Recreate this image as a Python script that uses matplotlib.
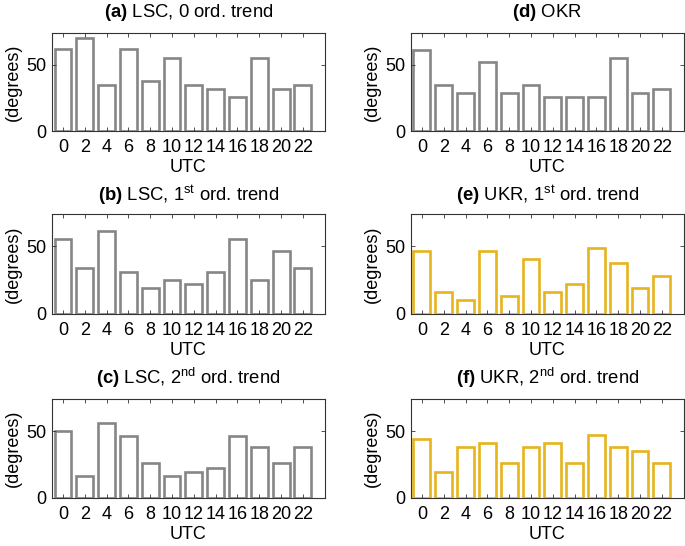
import matplotlib; matplotlib.use('Agg')
import matplotlib.pyplot as plt

plt.rcParams.update({
    'font.family': ['Liberation Sans', 'DejaVu Sans'],
    'font.size': 13,
    'mathtext.fontset': 'custom',
    'mathtext.rm': 'Liberation Sans',
    'mathtext.bf': 'Liberation Sans:bold',
})

GRAY = '#868686'
GOLD = '#E6B41C'

hours = [0, 2, 4, 6, 8, 10, 12, 14, 16, 18, 20, 22]

lsc_0 = [61.4, 70.2, 34.3, 61.4, 37.4, 55.3, 34.3, 31.3, 25.3, 55.3, 31.3, 34.3]
lsc_1 = [55.6, 34.3, 61.6, 31.3, 19.2, 25.5, 22.2, 31.3, 55.6, 25.5, 46.7, 34.3]
lsc_2 = [50.0, 16.7, 55.8, 46.7, 25.8, 16.7, 19.7, 22.7, 46.7, 37.9, 25.8, 37.9]
okr = [61.1, 34.3, 28.3, 52.3, 28.3, 34.3, 25.3, 25.3, 25.3, 55.1, 28.3, 31.3]
ukr_1 = [46.5, 16.2, 10.4, 46.5, 13.4, 40.4, 16.2, 22.2, 49.2, 37.4, 19.2, 28.3]
ukr_2 = [43.9, 19.7, 37.9, 40.9, 25.8, 37.9, 40.9, 25.8, 47.0, 37.9, 34.8, 25.8]

titles = [
    r'$\mathbf{(a)}$ LSC, 0 ord. trend',
    r'$\mathbf{(b)}$ LSC, 1$^{\mathrm{st}}$ ord. trend',
    r'$\mathbf{(c)}$ LSC, 2$^{\mathrm{nd}}$ ord. trend',
    r'$\mathbf{(d)}$ OKR',
    r'$\mathbf{(e)}$ UKR, 1$^{\mathrm{st}}$ ord. trend',
    r'$\mathbf{(f)}$ UKR, 2$^{\mathrm{nd}}$ ord. trend',
]
series = [lsc_0, lsc_1, lsc_2, okr, ukr_1, ukr_2]
colors = [GRAY, GRAY, GRAY, GRAY, GOLD, GOLD]

fig = plt.figure(figsize=(6.85, 5.46), dpi=100)
fig.patch.set_facecolor('white')

lefts = [0.076, 0.600]
rows = [(0.760, 0.180), (0.425, 0.183), (0.088, 0.181)]
title_pads = [11.3, 9.6, 11.1]
W = 0.398

for i, (vals, title, col) in enumerate(zip(series, titles, colors)):
    c, r = divmod(i, 3)
    b, h = rows[r]
    ax = fig.add_axes([lefts[c], b, W, h])
    ax.bar(hours, vals, width=1.55, facecolor='white', edgecolor=col, linewidth=1.9)
    ax.set_xlim(-1, 24)
    ax.set_ylim(0, 74)
    ax.set_xticks(hours)
    ax.set_yticks([0, 50])
    ax.tick_params(direction='in', top=True, right=True, length=3, width=0.6,
                   labelsize=13, color='#333333')
    ax.tick_params(axis='x', pad=6)
    ax.tick_params(axis='y', pad=4)
    for s in ax.spines.values():
        s.set_linewidth(0.8)
        s.set_color('#333333')
    ax.set_xlabel('UTC', fontsize=13, labelpad=2)
    ax.set_ylabel('(degrees)', fontsize=13, labelpad=3)
    ax.set_title(title, fontsize=13.3, pad=title_pads[r])

fig.savefig('out.png', dpi=100)
